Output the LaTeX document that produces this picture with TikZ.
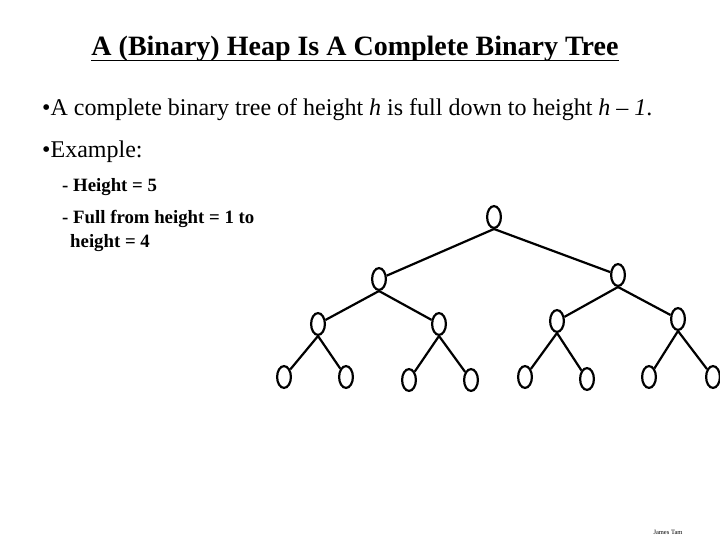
\documentclass[tikz,border=0pt]{standalone}
\usepackage{fontspec}
\setmainfont{Liberation Serif}
\usetikzlibrary{shapes.geometric}
\begin{document}
\begin{tikzpicture}[x=1bp,y=-1bp,
  tnode/.style={ellipse,draw,line width=2.2bp,minimum width=13.8bp,minimum height=21.8bp,inner sep=0pt},
  edge/.style={line width=2.2bp},
  txt/.style={inner sep=0pt,anchor=base west},
  titletxt/.style={inner sep=0pt,anchor=base,font=\fontsize{28bp}{30bp}\selectfont\bfseries},
  bigtxt/.style={txt,font=\fontsize{24bp}{26bp}\selectfont},
  subtxt/.style={txt,font=\fontsize{18.8bp}{20bp}\selectfont\bfseries}]
\useasboundingbox (0,0) rectangle (720,540);
\fill[white] (0,0) rectangle (720,540);
% texts
\node[titletxt] (title) at (355,56) {A (Binary) Heap Is A Complete Binary Tree};
\draw[line width=1.8bp] ([yshift=-4.5bp]title.base west) -- ([yshift=-4.5bp]title.base east);
\node[bigtxt] (l1) at (42,116) {•A complete binary tree of height \textit{h} is full down to height \textit{h} – \textit{1}.};
\node[bigtxt] (l2) at (42,158) {•Example:};
\node[subtxt] (s1) at (62,192) {- Height = 5};
\node[subtxt] (s2) at (62,224) {- Full from height = 1 to};
\node[subtxt] (s3) at (70,248) {height = 4};
\node[inner sep=0pt,font=\fontsize{6.5bp}{7bp}\selectfont] (foot) at (668,532) {James Tam};
% tree
\node[tnode] (r) at (494,217) {};
\node[tnode] (a) at (379,279) {};
\node[tnode] (b) at (618,275) {};
\node[tnode] (aa) at (318,324) {};
\node[tnode] (ab) at (439,324) {};
\node[tnode] (ba) at (557,321) {};
\node[tnode] (bb) at (678,319) {};
\node[tnode] (aaa) at (284,377) {};
\node[tnode] (aab) at (346,377) {};
\node[tnode] (aba) at (409,380) {};
\node[tnode] (abb) at (471,380) {};
\node[tnode] (baa) at (525,377) {};
\node[tnode] (bab) at (587,379) {};
\node[tnode] (bba) at (649,377) {};
\node[tnode] (bbb) at (713,377) {};
\foreach \p/\c in {r/a,r/b,a/aa,a/ab,b/ba,b/bb,aa/aaa,aa/aab,ab/aba,ab/abb,ba/baa,ba/bab,bb/bba,bb/bbb}
  \draw[edge] (\p.south) -- (\c);
\end{tikzpicture}
\end{document}
